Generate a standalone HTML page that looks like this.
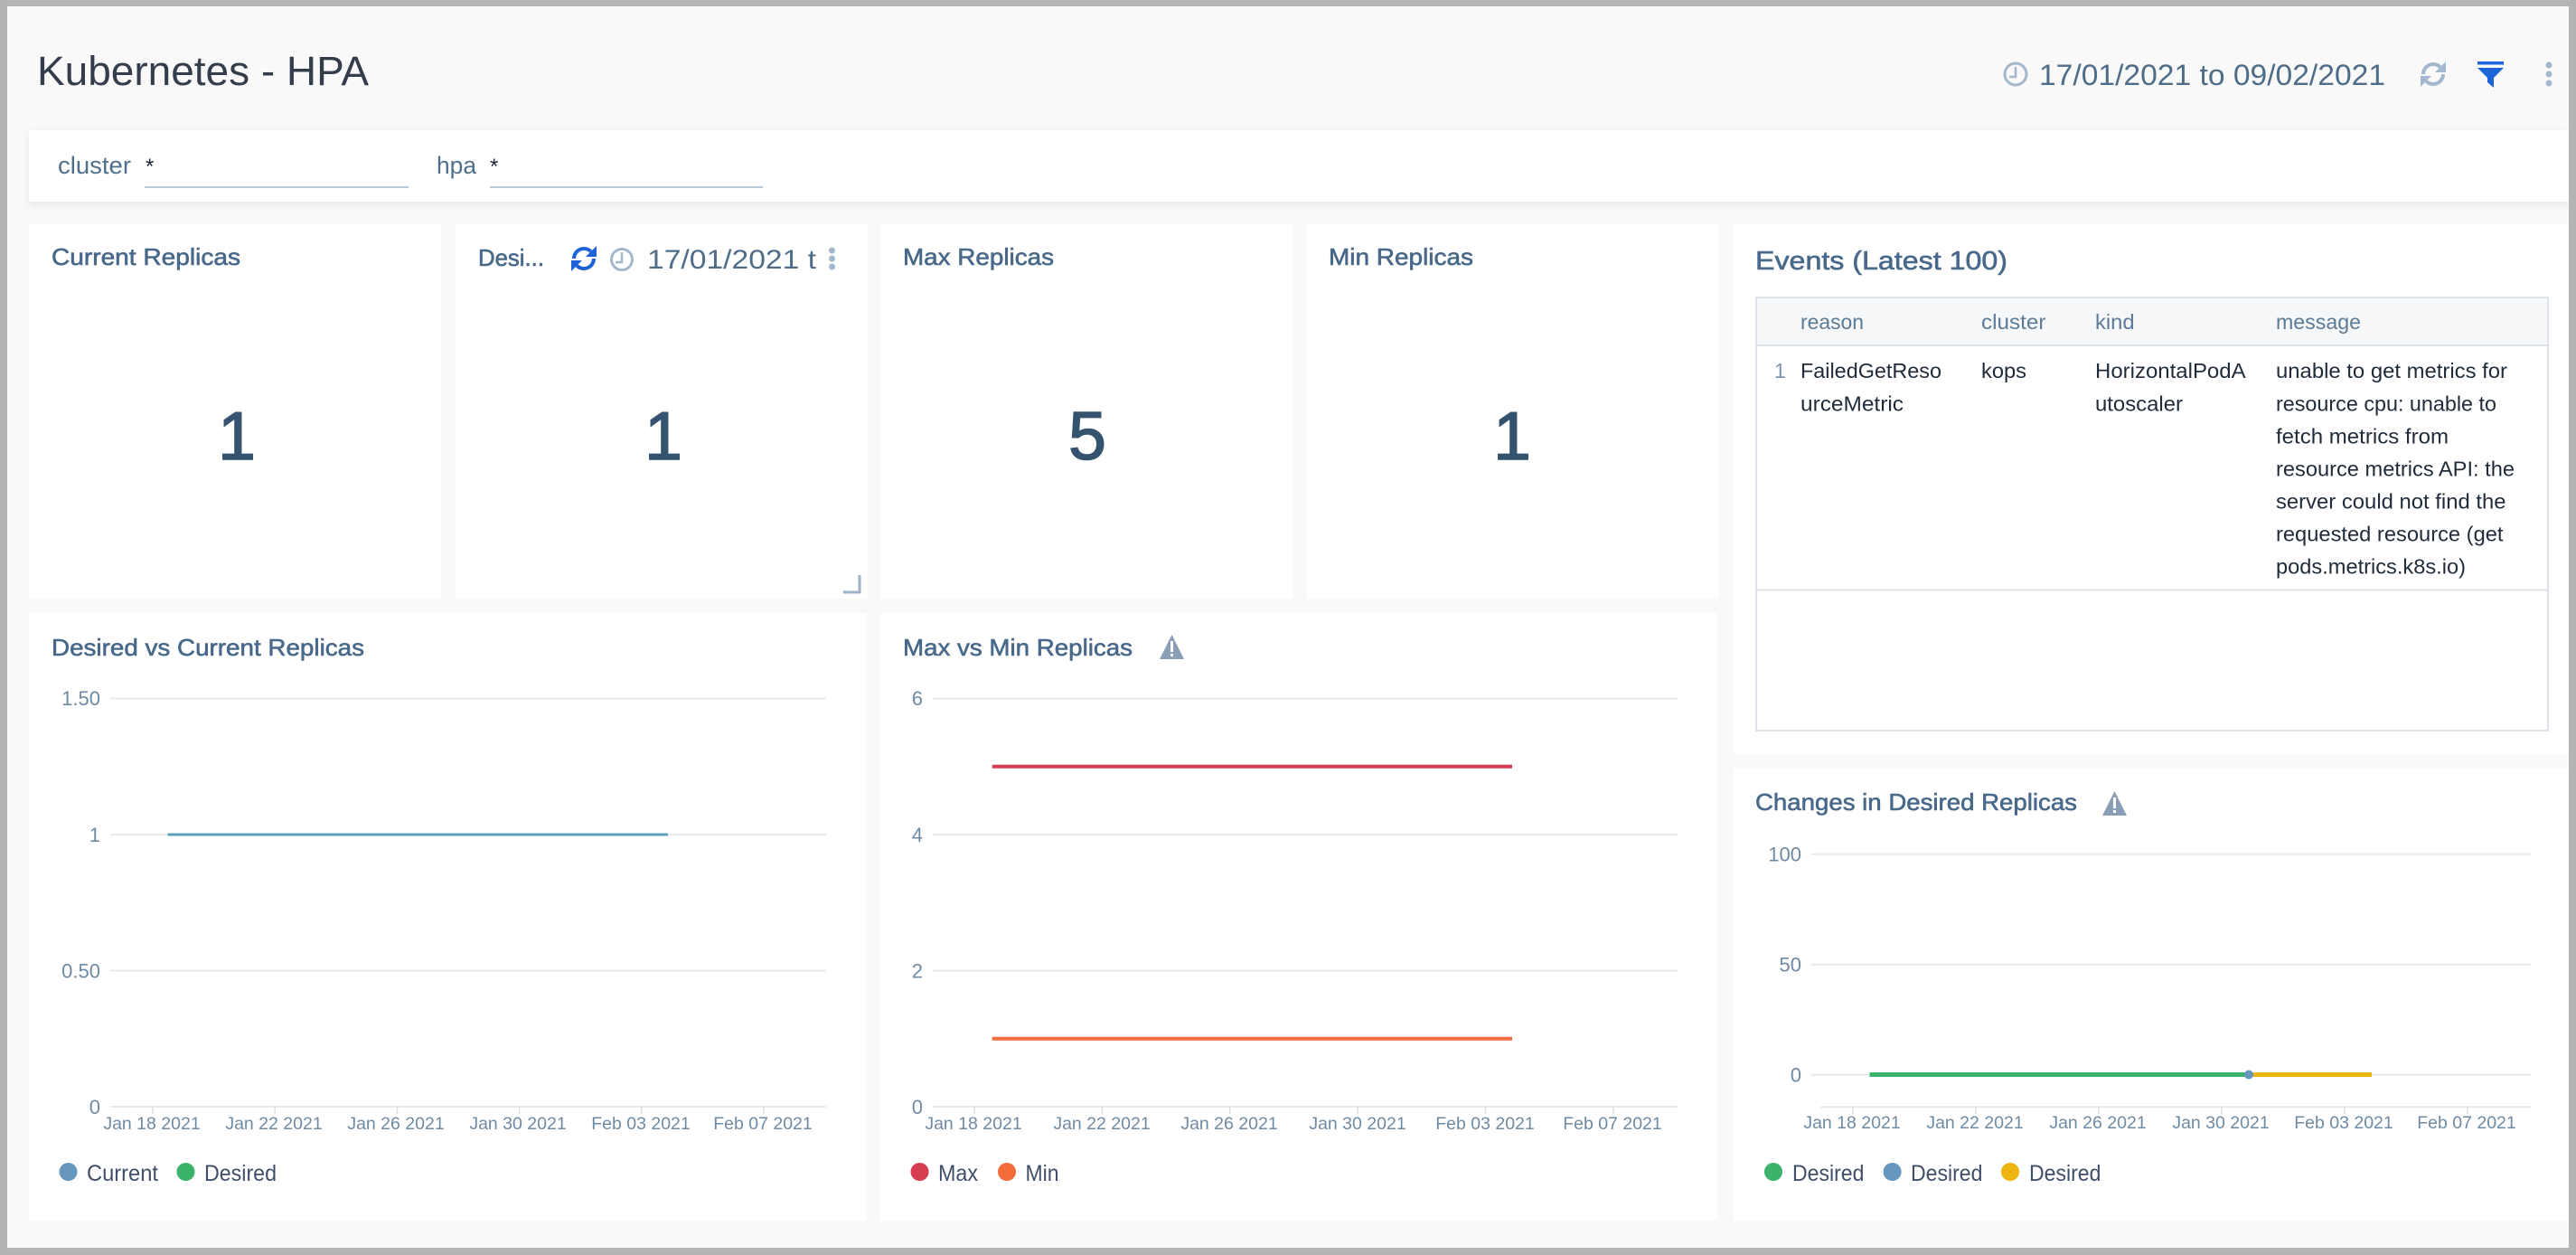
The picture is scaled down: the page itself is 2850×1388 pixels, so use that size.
<!DOCTYPE html>
<html>
<head>
<meta charset="utf-8">
<style>
html,body{margin:0;padding:0;background:#b4b4b4;width:2850px;height:1388px;overflow:hidden}
svg{display:block}
.t{fill:#48698a;stroke:#48698a;stroke-width:0.6px;font-size:26px}
.ax{fill:#6f8ba3;font-size:22px}
.xl{fill:#6f8ba3;font-size:19.5px}
.lg{fill:#3f4f69;font-size:25px}
.th{fill:#5d7b96;font-size:23px}
.td{fill:#1f2b3a;font-size:23px}
</style>
</head>
<body>
<svg width="2850" height="1388" viewBox="0 0 2850 1388" xmlns="http://www.w3.org/2000/svg" font-family="'Liberation Sans', sans-serif">
<defs>
<filter id="sh" x="-5%" y="-50%" width="110%" height="200%">
<feDropShadow dx="0" dy="3" stdDeviation="4" flood-color="#000" flood-opacity="0.08"/>
</filter>
</defs>
<!-- background -->
<rect x="0" y="0" width="2850" height="1388" fill="#f9f9f9"/>

<!-- header -->
<text x="41" y="94" font-size="45" fill="#343d4c" textLength="367" lengthAdjust="spacingAndGlyphs">Kubernetes - HPA</text>

<!-- clock icon -->
<circle cx="2230" cy="82" r="12" fill="none" stroke="#a3b8cc" stroke-width="3"/>
<path d="M2230 74 V85 H2223" fill="none" stroke="#a3b8cc" stroke-width="2.5"/>
<text x="2256" y="94" font-size="32" fill="#4f6d88" textLength="383" lengthAdjust="spacingAndGlyphs">17/01/2021 to 09/02/2021</text>
<!-- refresh icon -->
<g fill="none" stroke="#a3b8cc" stroke-width="4">
<path d="M2681 82 A11 11 0 0 1 2699.8 74.2"/>
<path d="M2703 82 A11 11 0 0 1 2684.2 89.8"/>
</g>
<polygon points="2706,68 2706,80 2694,80" fill="#a3b8cc"/>
<polygon points="2678,96 2678,84 2690,84" fill="#a3b8cc"/>
<!-- filter icon -->
<rect x="2741" y="68" width="29" height="3.5" fill="#1f63d8"/>
<polygon points="2741,75 2770,75 2759,86 2759,97 2752,91 2752,86" fill="#1f63d8"/>
<!-- dots -->
<circle cx="2820" cy="72" r="3.5" fill="#a3b8cc"/>
<circle cx="2820" cy="82" r="3.5" fill="#a3b8cc"/>
<circle cx="2820" cy="92" r="3.5" fill="#a3b8cc"/>

<!-- filter bar -->
<rect x="32" y="144" width="2810" height="79" fill="#fff" filter="url(#sh)"/>
<text x="64" y="192" font-size="27" fill="#4f6f8a" textLength="81" lengthAdjust="spacingAndGlyphs">cluster</text>
<text x="161" y="192" font-size="24" fill="#1d2636">*</text>
<rect x="160" y="206" width="292" height="2" fill="#b8c9d9"/>
<text x="483" y="192" font-size="27" fill="#4f6f8a" textLength="44" lengthAdjust="spacingAndGlyphs">hpa</text>
<text x="542" y="192" font-size="24" fill="#1d2636">*</text>
<rect x="542" y="206" width="302" height="2" fill="#b8c9d9"/>

<!-- stat panels -->
<rect x="32" y="248" width="456" height="414" fill="#fff"/>
<rect x="504" y="248" width="456" height="414" fill="#fff"/>
<rect x="975" y="248" width="455" height="414" fill="#fff"/>
<rect x="1446" y="248" width="455" height="414" fill="#fff"/>

<text class="t" x="57" y="293" textLength="209" lengthAdjust="spacingAndGlyphs">Current Replicas</text>
<text class="t" x="529" y="294" textLength="73" lengthAdjust="spacingAndGlyphs">Desi...</text>
<text class="t" x="999" y="293" textLength="167" lengthAdjust="spacingAndGlyphs">Max Replicas</text>
<text class="t" x="1470" y="293" textLength="160" lengthAdjust="spacingAndGlyphs">Min Replicas</text>

<!-- panel 2 header icons -->
<g fill="none" stroke="#1f63d8" stroke-width="4">
<path d="M635 286 A11 11 0 0 1 653.8 278.2"/>
<path d="M657 286 A11 11 0 0 1 638.2 293.8"/>
</g>
<polygon points="660,272 660,284 648,284" fill="#1f63d8"/>
<polygon points="632,300 632,288 644,288" fill="#1f63d8"/>
<circle cx="688" cy="287" r="11.5" fill="none" stroke="#a3b8cc" stroke-width="3"/>
<path d="M688 279 V290 H681" fill="none" stroke="#a3b8cc" stroke-width="2.5"/>
<text x="716" y="297" font-size="30" fill="#4f6d88" textLength="187" lengthAdjust="spacingAndGlyphs">17/01/2021 t</text>
<circle cx="920.5" cy="277" r="3.5" fill="#a3b8cc"/>
<circle cx="920.5" cy="286" r="3.5" fill="#a3b8cc"/>
<circle cx="920.5" cy="295" r="3.5" fill="#a3b8cc"/>
<path d="M951 636 V655 H933" fill="none" stroke="#9fb3c8" stroke-width="3"/>

<!-- big numbers -->
<g font-size="75" fill="#34536f" stroke="#34536f" stroke-width="1.6" text-anchor="middle">
<text x="262" y="508">1</text>
<text x="734" y="508">1</text>
<text x="1203" y="508">5</text>
<text x="1673" y="508">1</text>
</g>

<!-- events panel -->
<rect x="1918" y="248" width="924" height="586" fill="#fff"/>
<text class="t" x="1942" y="298" style="font-size:29px" textLength="279" lengthAdjust="spacingAndGlyphs">Events (Latest 100)</text>
<rect x="1943" y="329" width="876" height="479" fill="#fff" stroke="#dde3e8" stroke-width="2"/>
<rect x="1944" y="330" width="874" height="52" fill="#f5f7f9"/>
<line x1="1943" y1="382" x2="2819" y2="382" stroke="#dde3e8" stroke-width="2"/>
<line x1="1943" y1="652.5" x2="2819" y2="652.5" stroke="#dde3e8" stroke-width="2"/>
<text class="th" x="1992" y="364" textLength="70" lengthAdjust="spacingAndGlyphs">reason</text>
<text class="th" x="2192" y="364" textLength="71.5" lengthAdjust="spacingAndGlyphs">cluster</text>
<text class="th" x="2318" y="364" textLength="43.6" lengthAdjust="spacingAndGlyphs">kind</text>
<text class="th" x="2518" y="364" textLength="94" lengthAdjust="spacingAndGlyphs">message</text>
<text x="1963" y="418" font-size="23" fill="#7d96ad">1</text>
<text class="td" x="1992" y="418" textLength="156" lengthAdjust="spacingAndGlyphs">FailedGetReso</text>
<text class="td" x="1992" y="454.5" textLength="114" lengthAdjust="spacingAndGlyphs">urceMetric</text>
<text class="td" x="2192" y="418" textLength="50" lengthAdjust="spacingAndGlyphs">kops</text>
<text class="td" x="2318" y="418" textLength="166.6" lengthAdjust="spacingAndGlyphs">HorizontalPodA</text>
<text class="td" x="2318" y="454.5" textLength="97" lengthAdjust="spacingAndGlyphs">utoscaler</text>
<text class="td" x="2518" y="418" textLength="256" lengthAdjust="spacingAndGlyphs">unable to get metrics for</text>
<text class="td" x="2518" y="454.5" textLength="244" lengthAdjust="spacingAndGlyphs">resource cpu: unable to</text>
<text class="td" x="2518" y="490.5" textLength="191" lengthAdjust="spacingAndGlyphs">fetch metrics from</text>
<text class="td" x="2518" y="526.5" textLength="264" lengthAdjust="spacingAndGlyphs">resource metrics API: the</text>
<text class="td" x="2518" y="562.5" textLength="254.5" lengthAdjust="spacingAndGlyphs">server could not find the</text>
<text class="td" x="2518" y="598.5" textLength="251.5" lengthAdjust="spacingAndGlyphs">requested resource (get</text>
<text class="td" x="2518" y="634.5" textLength="210" lengthAdjust="spacingAndGlyphs">pods.metrics.k8s.io)</text>

<!-- chart 1: Desired vs Current -->
<rect x="32" y="678" width="926" height="672" fill="#fff"/>
<text class="t" x="57" y="725" textLength="346" lengthAdjust="spacingAndGlyphs">Desired vs Current Replicas</text>
<g stroke="#e6eaee" stroke-width="2">
<line x1="122" y1="772.5" x2="914" y2="772.5"/>
<line x1="122" y1="923" x2="914" y2="923"/>
<line x1="122" y1="1073.5" x2="914" y2="1073.5"/>
<line x1="122" y1="1224" x2="914" y2="1224"/>
</g>
<g class="ax" text-anchor="end">
<text x="111" y="780">1.50</text>
<text x="111" y="931">1</text>
<text x="111" y="1081.5">0.50</text>
<text x="111" y="1232">0</text>
</g>
<g stroke="#d9dfe5" stroke-width="1.5">
<line x1="169" y1="1224" x2="169" y2="1232"/>
<line x1="304.2" y1="1224" x2="304.2" y2="1232"/>
<line x1="439.4" y1="1224" x2="439.4" y2="1232"/>
<line x1="574.6" y1="1224" x2="574.6" y2="1232"/>
<line x1="709.8" y1="1224" x2="709.8" y2="1232"/>
<line x1="845" y1="1224" x2="845" y2="1232"/>
</g>
<g class="xl" text-anchor="middle">
<text x="168" y="1249">Jan 18 2021</text>
<text x="303" y="1249">Jan 22 2021</text>
<text x="438" y="1249">Jan 26 2021</text>
<text x="573" y="1249">Jan 30 2021</text>
<text x="709" y="1249">Feb 03 2021</text>
<text x="844" y="1249">Feb 07 2021</text>
</g>
<line x1="185.6" y1="923" x2="739" y2="923" stroke="#5c9fb6" stroke-width="3"/>
<circle cx="75.5" cy="1296" r="10" fill="#6596be"/>
<text class="lg" x="96" y="1306" textLength="79" lengthAdjust="spacingAndGlyphs">Current</text>
<circle cx="205.5" cy="1296" r="10" fill="#3bb36a"/>
<text class="lg" x="226" y="1306" textLength="80" lengthAdjust="spacingAndGlyphs">Desired</text>

<!-- chart 2: Max vs Min -->
<rect x="973" y="678" width="927" height="672" fill="#fff"/>
<text class="t" x="999" y="725" textLength="254" lengthAdjust="spacingAndGlyphs">Max vs Min Replicas</text>
<polygon points="1296.5,702 1310,729 1283,729" fill="#8a9fb5"/>
<rect x="1295" y="709" width="3" height="12" fill="#fff"/>
<rect x="1295" y="723" width="3" height="3" fill="#fff"/>
<g stroke="#e6eaee" stroke-width="2">
<line x1="1032" y1="772.5" x2="1856" y2="772.5"/>
<line x1="1032" y1="923" x2="1856" y2="923"/>
<line x1="1032" y1="1073.5" x2="1856" y2="1073.5"/>
<line x1="1032" y1="1224" x2="1856" y2="1224"/>
</g>
<g class="ax" text-anchor="end">
<text x="1021" y="780">6</text>
<text x="1021" y="931">4</text>
<text x="1021" y="1081.5">2</text>
<text x="1021" y="1232">0</text>
</g>
<g stroke="#d9dfe5" stroke-width="1.5">
<line x1="1078" y1="1224" x2="1078" y2="1232"/>
<line x1="1219.4" y1="1224" x2="1219.4" y2="1232"/>
<line x1="1360.8" y1="1224" x2="1360.8" y2="1232"/>
<line x1="1502.2" y1="1224" x2="1502.2" y2="1232"/>
<line x1="1643.6" y1="1224" x2="1643.6" y2="1232"/>
<line x1="1785" y1="1224" x2="1785" y2="1232"/>
</g>
<g class="xl" text-anchor="middle">
<text x="1077" y="1249">Jan 18 2021</text>
<text x="1219" y="1249">Jan 22 2021</text>
<text x="1360" y="1249">Jan 26 2021</text>
<text x="1502" y="1249">Jan 30 2021</text>
<text x="1643" y="1249">Feb 03 2021</text>
<text x="1784" y="1249">Feb 07 2021</text>
</g>
<line x1="1097.7" y1="847.8" x2="1673" y2="847.8" stroke="#d63d52" stroke-width="4"/>
<line x1="1097.7" y1="1148.8" x2="1673" y2="1148.8" stroke="#f26c3c" stroke-width="4"/>
<circle cx="1017.5" cy="1296" r="10" fill="#d63d52"/>
<text class="lg" x="1038" y="1306" textLength="44" lengthAdjust="spacingAndGlyphs">Max</text>
<circle cx="1114" cy="1296" r="10" fill="#f26c3c"/>
<text class="lg" x="1134.5" y="1306" textLength="37" lengthAdjust="spacingAndGlyphs">Min</text>

<!-- chart 3: Changes in Desired Replicas -->
<rect x="1918" y="850" width="924" height="500" fill="#fff"/>
<text class="t" x="1942" y="896" textLength="356" lengthAdjust="spacingAndGlyphs">Changes in Desired Replicas</text>
<polygon points="2339.5,875 2353,902 2326,902" fill="#8a9fb5"/>
<rect x="2338" y="882" width="3" height="12" fill="#fff"/>
<rect x="2338" y="896" width="3" height="3" fill="#fff"/>
<g stroke="#e6eaee" stroke-width="2">
<line x1="2004" y1="944.6" x2="2800" y2="944.6"/>
<line x1="2004" y1="1066.7" x2="2800" y2="1066.7"/>
<line x1="2004" y1="1188.7" x2="2800" y2="1188.7"/>
<line x1="2014" y1="1224.3" x2="2800" y2="1224.3"/>
</g>
<g class="ax" text-anchor="end">
<text x="1993" y="952.5">100</text>
<text x="1993" y="1074.5">50</text>
<text x="1993" y="1196.5">0</text>
</g>
<g stroke="#d9dfe5" stroke-width="1.5">
<line x1="2050" y1="1224" x2="2050" y2="1232"/>
<line x1="2186" y1="1224" x2="2186" y2="1232"/>
<line x1="2322" y1="1224" x2="2322" y2="1232"/>
<line x1="2458" y1="1224" x2="2458" y2="1232"/>
<line x1="2594" y1="1224" x2="2594" y2="1232"/>
<line x1="2730" y1="1224" x2="2730" y2="1232"/>
</g>
<g class="xl" text-anchor="middle">
<text x="2049" y="1248">Jan 18 2021</text>
<text x="2185" y="1248">Jan 22 2021</text>
<text x="2321" y="1248">Jan 26 2021</text>
<text x="2457" y="1248">Jan 30 2021</text>
<text x="2593" y="1248">Feb 03 2021</text>
<text x="2729" y="1248">Feb 07 2021</text>
</g>
<line x1="2068.5" y1="1188.5" x2="2488" y2="1188.5" stroke="#3bb36a" stroke-width="5"/>
<line x1="2488" y1="1188.5" x2="2624" y2="1188.5" stroke="#ebb40f" stroke-width="5"/>
<circle cx="2488" cy="1188.5" r="5" fill="#6596be"/>
<circle cx="1962" cy="1296" r="10" fill="#3bb36a"/>
<text class="lg" x="1983" y="1306" textLength="79.4" lengthAdjust="spacingAndGlyphs">Desired</text>
<circle cx="2093.6" cy="1296" r="10" fill="#6596be"/>
<text class="lg" x="2114" y="1306" textLength="79.4" lengthAdjust="spacingAndGlyphs">Desired</text>
<circle cx="2224" cy="1296" r="10" fill="#ebb40f"/>
<text class="lg" x="2245" y="1306" textLength="79.4" lengthAdjust="spacingAndGlyphs">Desired</text>

<!-- outer gray frame -->
<rect x="0" y="0" width="2850" height="7" fill="#b4b4b4"/>
<rect x="0" y="0" width="8" height="1388" fill="#b4b4b4"/>
<rect x="2842" y="0" width="8" height="1388" fill="#b4b4b4"/>
<rect x="0" y="1380" width="2850" height="8" fill="#b4b4b4"/>
</svg>
</body>
</html>
